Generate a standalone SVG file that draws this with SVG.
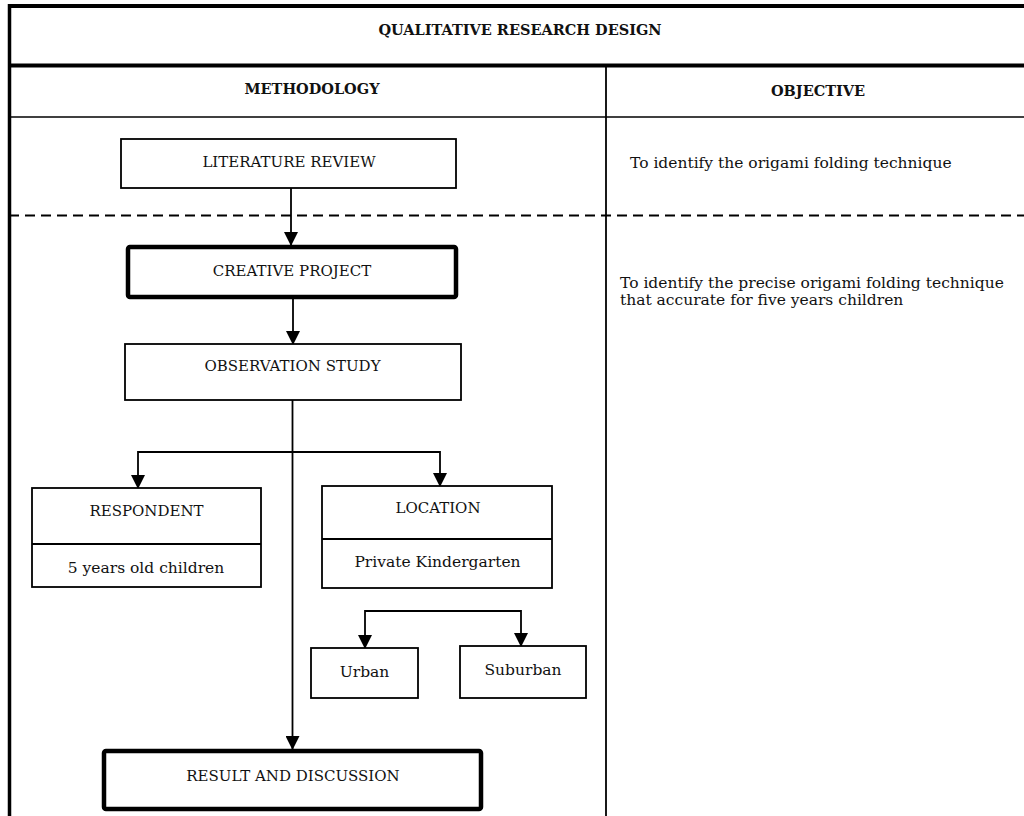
<svg xmlns="http://www.w3.org/2000/svg" width="1024" height="816" viewBox="0 0 1024 816">
<style>
  text { font-family: "DejaVu Serif", "Liberation Serif", serif; font-size: 15.5px; fill: #111; }
  .c { text-anchor: middle; }
  .u { font-size: 15px; }
  .b { font-weight: bold; font-size: 14.5px; }
  .box { fill: #fff; stroke: #000; stroke-width: 1.8; }
  .thick { fill: #fff; stroke: #000; stroke-width: 4.5; }
  .ln { stroke: #000; stroke-width: 1.8; fill: none; }
  .frame { stroke: #000; fill: none; }
</style>
<defs>
  <marker id="ah" markerUnits="userSpaceOnUse" markerWidth="14" markerHeight="14" viewBox="0 0 14 14" refX="13" refY="7" orient="auto">
    <path d="M0,0 L14,7 L0,14 Z" fill="#000"/>
  </marker>
</defs>
<rect width="1024" height="816" fill="#fff"/>

<g id="table">
  <line class="frame" x1="8" y1="6" x2="1024" y2="6" stroke-width="4"/>
  <line class="frame" x1="9.5" y1="4" x2="9.5" y2="816" stroke-width="3.5"/>
  <line class="frame" x1="8" y1="65.5" x2="1024" y2="65.5" stroke-width="4"/>
  <line class="frame" x1="9" y1="117" x2="1024" y2="117" stroke-width="1.6"/>
  <line class="frame" x1="606" y1="66" x2="606" y2="816" stroke-width="1.8"/>
  <line class="frame" x1="9" y1="215.5" x2="1024" y2="215.5" stroke-width="1.8" stroke-dasharray="10 6"/>
  <text class="c b" x="520" y="35">QUALITATIVE RESEARCH DESIGN</text>
  <text class="c b" x="312" y="94">METHODOLOGY</text>
  <text class="c b" x="818" y="96">OBJECTIVE</text>
  <text x="630" y="168" font-size="14.6">To identify the origami folding technique</text>
  <text x="620" y="288" font-size="15.6">To identify the precise origami folding technique</text>
  <text x="620" y="305" font-size="15.6">that accurate for five years children</text>
</g>

<g id="connectors">
  <line class="ln" x1="291" y1="188" x2="291" y2="245" marker-end="url(#ah)"/>
  <line class="ln" x1="293" y1="299" x2="293" y2="344" marker-end="url(#ah)"/>
  <line class="ln" x1="292.5" y1="400" x2="292.5" y2="749" marker-end="url(#ah)"/>
  <polyline class="ln" points="138,452 440,452 440,486" marker-end="url(#ah)"/>
  <line class="ln" x1="138" y1="451.1" x2="138" y2="488" marker-end="url(#ah)"/>
  <polyline class="ln" points="365,611 521,611 521,646" marker-end="url(#ah)"/>
  <line class="ln" x1="365" y1="610.1" x2="365" y2="648" marker-end="url(#ah)"/>
</g>

<g id="literature-review">
  <rect class="box" x="121" y="139" width="335" height="49"/>
  <text class="c u" x="289" y="167">LITERATURE REVIEW</text>
</g>
<g id="creative-project">
  <rect class="thick" x="128" y="247" width="328" height="50" rx="2"/>
  <text class="c u" x="292" y="276">CREATIVE PROJECT</text>
</g>
<g id="observation-study">
  <rect class="box" x="125" y="344" width="336" height="56"/>
  <text class="c u" x="292.5" y="371">OBSERVATION STUDY</text>
</g>
<g id="respondent">
  <rect class="box" x="32" y="488" width="229" height="99"/>
  <line class="ln" x1="32" y1="544" x2="261" y2="544"/>
  <text class="c u" x="146.5" y="516">RESPONDENT</text>
  <text class="c" x="146" y="573">5 years old children</text>
</g>
<g id="location">
  <rect class="box" x="322" y="486" width="230" height="102"/>
  <line class="ln" x1="322" y1="539" x2="552" y2="539"/>
  <text class="c u" x="438" y="513">LOCATION</text>
  <text class="c" x="437.5" y="567">Private Kindergarten</text>
</g>
<g id="urban">
  <rect class="box" x="311" y="648" width="107" height="50"/>
  <text class="c" x="364.5" y="677">Urban</text>
</g>
<g id="suburban">
  <rect class="box" x="460" y="646" width="126" height="52"/>
  <text class="c" x="523" y="675">Suburban</text>
</g>
<g id="result-discussion">
  <rect class="thick" x="104" y="751" width="377" height="58" rx="2"/>
  <text class="c u" x="293" y="781">RESULT AND DISCUSSION</text>
</g>
</svg>
